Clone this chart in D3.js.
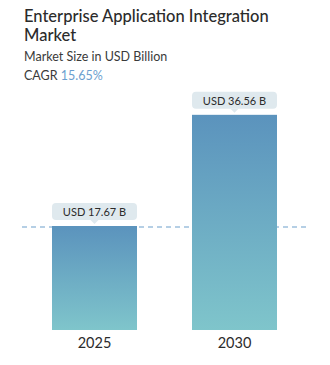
<!DOCTYPE html>
<html><head><meta charset="utf-8">
<script src="https://cdn.jsdelivr.net/npm/d3@7"></script>
<style>body{margin:0;background:#fff;} svg{display:block;}</style>
</head><body>
<svg id="c" width="330" height="365"></svg>
<script>
const years = ["2025", "2030"];
const values = [17.67, 36.56];
const valueLabels = ["USD 17.67 B", "USD 36.56 B"];
const titleLines = ["Enterprise Application Integration", "Market"];
const subtitle = "Market Size in USD Billion";
const cagr = "15.65%";

const svg = d3.select("#c");
const font = "Lato, 'Open Sans', sans-serif";

const defs = svg.append("defs");
const grad = defs.append("linearGradient").attr("id","g").attr("x1",0).attr("y1",0).attr("x2",0).attr("y2",1);
grad.append("stop").attr("offset","0%").attr("stop-color","#5b93bd");
grad.append("stop").attr("offset","100%").attr("stop-color","#7fc5cb");

svg.selectAll("text.title").data(titleLines).join("text")
  .attr("x",24).attr("y",(d,i)=>22+i*19)
  .attr("font-family",font).attr("font-size",16.5).attr("font-weight",500).attr("fill","#2b2b2b").text(d=>d);
svg.append("text").attr("x",24).attr("y",61).attr("font-family",font).attr("font-size",12.5).attr("fill","#3a3a3a").text(subtitle);
const ct = svg.append("text").attr("x",24).attr("y",80).attr("font-family",font).attr("font-size",12.5).attr("fill","#3a3a3a");
ct.append("tspan").text("CAGR ");
ct.append("tspan").attr("fill","#6b9fcf").text(cagr);

const x = d3.scaleBand().domain(years).range([52,277]).paddingInner(55/140).paddingOuter(0);
const y = d3.scaleLinear().domain([0, 17.67]).range([330, 226]);

// dashed reference line
svg.append("line").attr("x1",22).attr("x2",308).attr("y1",y(values[0])+1).attr("y2",y(values[0])+1)
  .attr("stroke","#6d9fcb").attr("stroke-width",1.2).attr("stroke-dasharray","5,4");

svg.selectAll("rect.bar").data(values).join("rect")
  .attr("x",(d,i)=>x(years[i])).attr("width",x.bandwidth())
  .attr("y",d=>y(d)).attr("height",d=>y(0)-y(d)).attr("fill","url(#g)");

// labels
const lg = svg.selectAll("g.lab").data(values).join("g")
  .attr("transform",(d,i)=>`translate(${x(years[i])+x.bandwidth()/2},${y(d)-12})`);
lg.append("rect").attr("x",-x.bandwidth()/2).attr("y",-11).attr("width",x.bandwidth()).attr("height",17).attr("rx",4)
  .attr("fill","#dfe9ee");
lg.append("path").attr("d","M-4,6 L0,10 L4,6 Z").attr("fill","#dfe9ee");
lg.append("text").attr("text-anchor","middle").attr("y",2).attr("font-family",font).attr("font-size",11)
  .attr("fill","#2b2b2b").text((d,i)=>valueLabels[i]);

svg.selectAll("text.yr").data(years).join("text")
  .attr("x",d=>x(d)+x.bandwidth()/2).attr("y",348).attr("text-anchor","middle")
  .attr("font-family",font).attr("font-size",14.5).attr("fill","#2b2b2b").text(d=>d);
</script>
</body></html>
